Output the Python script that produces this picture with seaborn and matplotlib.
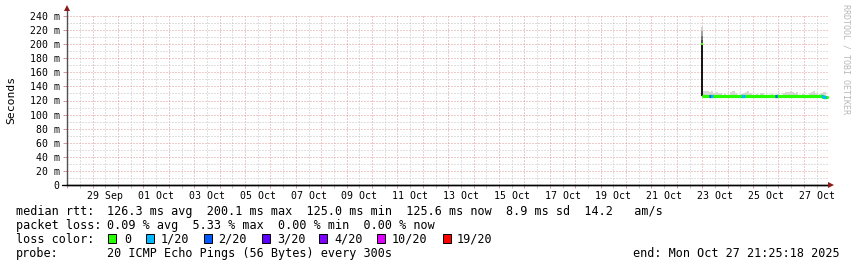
import matplotlib
matplotlib.use("Agg")
import matplotlib.pyplot as plt
import matplotlib.dates as mdates
from matplotlib.patches import Rectangle
from matplotlib.ticker import FixedLocator, FixedFormatter
import pandas as pd
import seaborn as sns

# ---------------- data ----------------
x_start = pd.Timestamp("2025-09-27 23:43")
x_end = pd.Timestamp("2025-10-27 23:43")
data_start = pd.Timestamp("2025-10-23 00:00")
data_end_hour = 117.4

tick_labels = ["29 Sep", "01 Oct", "03 Oct", "05 Oct", "07 Oct", "09 Oct", "11 Oct",
               "13 Oct", "15 Oct", "17 Oct", "19 Oct", "21 Oct", "23 Oct", "25 Oct", "27 Oct"]
label_days = ["2025-09-29", "2025-10-01", "2025-10-03", "2025-10-05", "2025-10-07",
              "2025-10-09", "2025-10-11", "2025-10-13", "2025-10-15", "2025-10-17",
              "2025-10-19", "2025-10-21", "2025-10-23", "2025-10-25", "2025-10-27"]

y_ticks = [0, 20, 40, 60, 80, 100, 120, 140, 160, 180, 200, 220, 240]
y_labels = ["0", "20 m", "40 m", "60 m", "80 m", "100 m", "120 m", "140 m",
            "160 m", "180 m", "200 m", "220 m", "240 m"]

# step start (hours after data_start), 2 h steps
step_hours = [0.5 + 2 * k for k in range(58)]
median_ms = [
    126.8, 126.5, 126.3, 126.6, 126.4, 126.2, 126.5, 126.3, 126.1, 126.4,
    126.2, 126.0, 126.3, 126.1, 126.4, 126.2, 126.0, 126.3, 126.5, 126.2,
    126.1, 126.3, 126.0, 126.2, 126.4, 126.1, 125.9, 126.2, 126.0, 126.3,
    126.1, 125.9, 126.2, 126.0, 126.3, 126.1, 125.8, 126.0, 126.2, 126.0,
    125.9, 126.1, 126.3, 126.0, 125.8, 126.1, 125.9, 126.2, 126.0, 125.8,
    126.1, 125.9, 126.2, 126.0, 125.7, 126.0, 125.8, 125.6]
loss_count = [
    0, 0, 0, 2, 1, 0, 0, 0, 0, 0,
    0, 0, 0, 0, 0, 0, 0, 0, 1, 1,
    0, 0, 0, 0, 0, 0, 0, 0, 0, 0,
    0, 0, 0, 0, 2, 0, 0, 0, 0, 0,
    0, 0, 0, 0, 0, 0, 0, 0, 0, 0,
    0, 0, 0, 0, 0, 0, 1, 1]
smoke_hi = [
    133, 134, 133, 132, 133, 131, 132, 130, 131,
    128, 129, 128, 128,
    132, 133, 131,
    128, 128, 129,
    131, 132, 133, 131,
    128, 128, 129, 128,
    131, 130, 128,
    128, 128, 129, 128, 128, 129, 128, 128, 130, 132,
    132, 133, 132, 131, 132,
    128, 128, 129, 128, 128,
    131, 132, 133, 131,
    128, 129, 130, 132]
smoke_lo = [
    124.8, 124.9, 124.7, 124.8, 125.0, 124.9, 124.8, 124.7, 124.9, 125.0,
    124.8, 124.9, 124.7, 124.8, 124.9, 125.0, 124.8, 124.7, 124.9, 124.8,
    124.9, 124.7, 124.8, 125.0, 124.9, 124.8, 124.7, 124.9, 124.8, 125.0,
    124.8, 124.7, 124.9, 124.8, 124.9, 124.7, 124.8, 125.0, 124.9, 124.8,
    124.7, 124.9, 124.8, 125.0, 124.8, 124.7, 124.9, 124.8, 124.9, 124.7,
    124.8, 125.0, 124.9, 124.8, 124.7, 124.9, 124.8, 124.7]

# first sample: high spike
spike_median = 200.1
spike_base = 126.0
spike_shade_edges = [200.1, 206, 212, 218, 225]
spike_shade_colors = ["#3a3a3a", "#6a6a6a", "#9a9a9a", "#cfcfcf"]

loss_levels = [0, 1, 2, 3, 4, 10, 19]
loss_names = ["0", "1/20", "2/20", "3/20", "4/20", "10/20", "19/20"]
loss_colors = ["#26ff00", "#00b8ff", "#0059ff", "#5e00ff", "#7e00ff", "#dd00ff", "#ff0000"]

legend_rows = [
    ("median rtt:", "126.3 ms avg  200.1 ms max  125.0 ms min  125.6 ms now  8.9 ms sd  14.2   am/s"),
    ("packet loss:", "0.09 % avg  5.33 % max  0.00 % min  0.00 % now"),
    ("loss color:", ""),
    ("probe:", "20 ICMP Echo Pings (56 Bytes) every 300s"),
]
end_text = "end: Mon Oct 27 21:25:18 2025"

# ---------------- style ----------------
sns.set_theme(style="white")
plt.rcParams["font.family"] = ["DejaVu Sans Mono", "DejaVu Sans"]

W, H = 857, 267
fig = plt.figure(figsize=(W / 100, H / 100), dpi=100)
fig.patch.set_facecolor("white")
ax = fig.add_axes([67 / W, (H - 185) / H, (829 - 67) / W, (185 - 16) / H])
ax.set_facecolor("white")

MGRID = "#dc9898"
GRID = "#c2c2c2"
DOT = (0, (1, 2))

df = pd.DataFrame({
    "time": [data_start + pd.Timedelta(hours=h) for h in step_hours],
    "median": median_ms,
    "loss": loss_count,
    "lo": smoke_lo,
    "hi": smoke_hi,
})
step_w = 2 / 24

# smoke
ax.bar(mdates.date2num(df["time"]), df["hi"] - df["lo"], bottom=df["lo"], width=step_w,
       align="edge", color="#d6d6d6", linewidth=0, zorder=2)

# spike at first sample
sx = mdates.date2num(data_start)
ax.vlines(sx, spike_base, spike_median, color="black", lw=1.3, zorder=4)
for i, c in enumerate(spike_shade_colors):
    ax.vlines(sx, spike_shade_edges[i], spike_shade_edges[i + 1], color=c, lw=1.3, zorder=3)

# median line (green base)
line_df = pd.concat([df[["time", "median"]],
                     pd.DataFrame({"time": [data_start + pd.Timedelta(hours=data_end_hour)],
                                   "median": [median_ms[-1]]})], ignore_index=True)
sns.lineplot(data=line_df, x="time", y="median", drawstyle="steps-post",
             color=loss_colors[0], lw=2.3, ax=ax, zorder=5)
# loss colour overlay
cmap = dict(zip(loss_levels, loss_colors))
lossy = df[df["loss"] > 0]
ax.hlines(lossy["median"], mdates.date2num(lossy["time"]),
          mdates.date2num(lossy["time"]) + step_w,
          colors=[cmap[v] for v in lossy["loss"]], lw=2.3, zorder=6)
ax.plot([sx], [spike_median], marker="s", ms=1.8, color=loss_colors[0], mew=0, zorder=7)

# axes limits / ticks
ax.set_xlim(mdates.date2num(x_start), mdates.date2num(x_end))
ax.set_ylim(0, 240)
ax.set_xlabel("")
ax.set_ylabel("")

ax.set_yticks(y_ticks, y_labels)
ax.yaxis.set_minor_locator(FixedLocator(list(range(10, 240, 20))))

days = pd.date_range("2025-09-28", "2025-10-27", freq="D")
ax.xaxis.set_major_locator(FixedLocator(mdates.date2num(days)))
ax.xaxis.set_major_formatter(FixedFormatter([""] * len(days)))
noons = pd.date_range("2025-09-27 12:00", "2025-10-27 12:00", freq="D")
lab_map = {pd.Timestamp(d): l for d, l in zip(label_days, tick_labels)}
noon_labels = [lab_map.get(n.normalize(), "") for n in noons]
ax.xaxis.set_minor_locator(FixedLocator(mdates.date2num(noons)))
ax.xaxis.set_minor_formatter(FixedFormatter(noon_labels))

ax.grid(which="major", color=MGRID, lw=0.72, ls=DOT, zorder=0)
ax.grid(which="minor", color=GRID, lw=0.72, ls=DOT, zorder=0)
ax.set_axisbelow(True)

ax.tick_params(axis="x", which="major", length=2, width=0.72, color=MGRID, direction="out", pad=1)
ax.tick_params(axis="x", which="minor", length=2, width=0.72, color=GRID, direction="out",
               pad=2.2, labelsize=7.1, labelcolor="black")
ax.tick_params(axis="y", which="major", length=3, width=0.72, color=MGRID, direction="out",
               pad=2.2, labelsize=7.1, labelcolor="black")
ax.tick_params(axis="y", which="minor", length=0)
ax.tick_params(bottom=True, left=True, which="both")

for s in ["top", "right"]:
    ax.spines[s].set_visible(False)
ax.spines["left"].set_visible(False)
ax.spines["bottom"].set_color("black")
ax.spines["bottom"].set_linewidth(1.0)
ax.spines["bottom"].set_zorder(8)

# axis lines with arrows
ax.plot([0, 0], [0, 1.035], transform=ax.transAxes, color="#505050", lw=1.0, clip_on=False, zorder=8)
ax.plot([-0.006, 1.0], [0, 0], transform=ax.transAxes, color="black", lw=1.0, clip_on=False, zorder=8)
ax.plot([1.003], [0], transform=ax.transAxes, marker=">", ms=4, color="#8b1a1a", mew=0,
        clip_on=False, zorder=9)
ax.plot([0], [1.045], transform=ax.transAxes, marker="^", ms=4, color="#8b1a1a", mew=0,
        clip_on=False, zorder=9)

# y label and watermark
fig.text(11 / W, 1 - 100 / H, "Seconds", rotation=90, ha="center", va="center",
         fontsize=8.2, color="black")
fig.text(846 / W, 1 - 4 / H, "RRDTOOL / TOBI OETIKER", rotation=270, ha="center", va="top",
         fontsize=6, color="#b8b8b8")

# legend rows
baselines = [215, 229, 243, 257]
for (lab, val), b in zip(legend_rows, baselines):
    fig.text(16 / W, 1 - b / H, lab, ha="left", va="baseline", fontsize=8.5, color="black")
    if val:
        fig.text(107 / W, 1 - b / H, val, ha="left", va="baseline", fontsize=8.5, color="black")

sq_x = [108, 146, 204, 262, 319, 377, 443]
tx_x = [124, 161, 218, 277, 334, 392, 457]
for sx_, tx_, c, n in zip(sq_x, tx_x, loss_colors, loss_names):
    fig.patches.append(Rectangle((sx_ / W, 1 - 243 / H), 8 / W, 9 / H, transform=fig.transFigure,
                                 facecolor=c, edgecolor="black", lw=0.7))
    fig.text(tx_ / W, 1 - 243 / H, n, ha="left", va="baseline", fontsize=8.5, color="black")

fig.text(840 / W, 1 - 257 / H, end_text, ha="right", va="baseline", fontsize=8.5, color="black")

fig.savefig("out.png", dpi=100, facecolor="white")
